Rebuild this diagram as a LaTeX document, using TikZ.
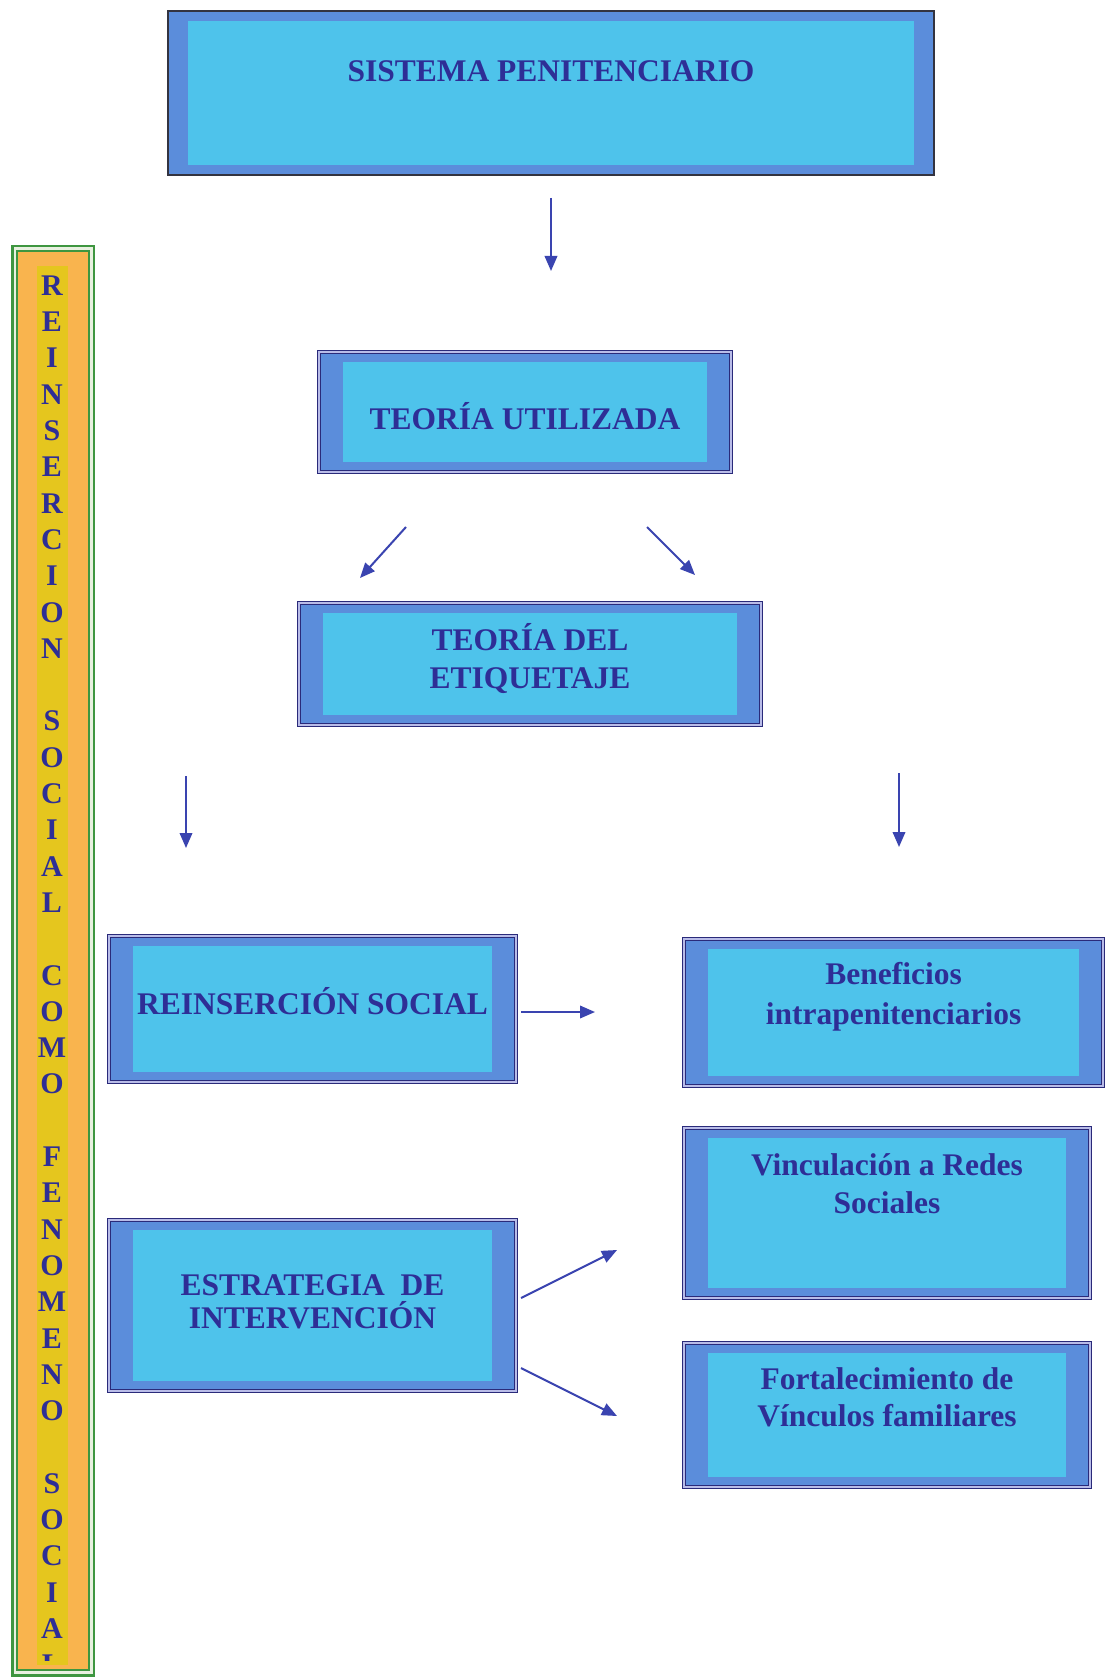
\documentclass[tikz,border=0pt]{standalone}
\usepackage{fontspec}
\setmainfont{Liberation Serif}
\usetikzlibrary{arrows.meta}
\definecolor{navy}{HTML}{2A2A7A}
\definecolor{midblue}{HTML}{5B8DDB}
\definecolor{cyanc}{HTML}{4EC3EB}
\definecolor{txtblue}{HTML}{2E2E96}
\definecolor{arrblue}{HTML}{3A44B0}
\definecolor{lav}{HTML}{B9BCE8}
\definecolor{grn}{HTML}{3E9640}
\definecolor{orng}{HTML}{F9B44E}
\definecolor{ylw}{HTML}{E5C61E}
\definecolor{paleg}{HTML}{E8F0E0}
\definecolor{sisedge}{HTML}{333340}
\newcommand{\boxtxt}[2]{\raisebox{#1}[0pt][0pt]{\begin{tabular}{@{}c@{}}#2\end{tabular}}}
\begin{document}
\begin{tikzpicture}[x=1pt,y=-1pt,
  bxbase/.style={fill=midblue, inner sep=0pt, outer sep=0pt,
    font=\fontsize{31.5}{38}\selectfont\bfseries, text=txtblue,
    path picture={\fill[cyanc] ([xshift=#1,yshift=-10pt]path picture bounding box.north west) rectangle ([xshift=-#1,yshift=10pt]path picture bounding box.south east);}},
  bxd/.style={bxbase=24pt, draw=navy, line width=1.8pt, double=lav, double distance=1.2pt},
  bxs/.style={bxbase=20pt, draw=sisedge, line width=2.5pt},
  barletter/.style={font=\fontsize{30}{36}\selectfont\bfseries, text=txtblue, inner sep=0pt, anchor=base},
  arr/.style={draw=arrblue, line width=2pt, -{Triangle[length=15pt,width=12.5pt]}}
]
\useasboundingbox (0,0) rectangle (1108,1677);
\fill[white] (0,0) rectangle (1108,1677);

% left vertical bar
\fill[paleg] (11,245) rectangle (95,1677);
\fill[orng] (17,251) rectangle (89,1670);
\fill[ylw] (37,266) rectangle (68,1665);
\draw[grn, line width=2.5pt] (12.25,246.25) rectangle (93.75,1675.5);
\draw[grn, line width=1.5pt] (17,251) rectangle (89,1670);
\begin{scope}
\clip (17,251) rectangle (89,1660);
\foreach \c/\i in {R/0,E/1,I/2,N/3,S/4,E/5,R/6,C/7,I/8,O/9,N/10,
  S/12,O/13,C/14,I/15,A/16,L/17,
  C/19,O/20,M/21,O/22,
  F/24,E/25,N/26,O/27,M/28,E/29,N/30,O/31,
  S/33,O/34,C/35,I/36,A/37,L/38}
  \node[barletter] (l\i) at (52,{295.3+36.3*\i}) {\c};
\end{scope}

% boxes
\node[bxs, minimum width=766pt, minimum height=164pt] (sis) at (551,93)
  {\boxtxt{12.5pt}{SISTEMA PENITENCIARIO}};
\node[bxd, minimum width=412pt, minimum height=120pt] (teo1) at (525,412)
  {\boxtxt{-15.5pt}{TEORÍA UTILIZADA}};
\node[bxd, minimum width=462pt, minimum height=122pt] (teo2) at (530,664)
  {\boxtxt{-3.5pt}{TEORÍA DEL\\ETIQUETAJE}};
\node[bxd, minimum width=407pt, minimum height=146pt] (rein) at (312.5,1009)
  {\boxtxt{-4pt}{REINSERCIÓN SOCIAL}};
\node[bxd, minimum width=419pt, minimum height=147pt] (ben) at (893.5,1012.5)
  {\boxtxt{9pt}{Beneficios\\[2pt]intrapenitenciarios}};
\node[bxd, minimum width=406pt, minimum height=170pt] (vin) at (887,1213)
  {\boxtxt{20pt}{Vinculación a Redes\\Sociales}};
\node[bxd, minimum width=406pt, minimum height=144pt] (fort) at (887,1415)
  {\boxtxt{8.5pt}{Fortalecimiento de\\[-1pt]Vínculos familiares}};
\node[bxd, minimum width=407pt, minimum height=171pt] (est) at (312.5,1305.5)
  {\boxtxt{-5pt}{ESTRATEGIA~~DE\\[-6pt]INTERVENCIÓN}};

% arrow end points
\coordinate (a1s) at (551,198);  \coordinate (a1e) at (551,271);
\coordinate (a2s) at (406,527);  \coordinate (a2e) at (360,578);
\coordinate (a3s) at (647,527);  \coordinate (a3e) at (695,575);
\coordinate (a4s) at (186,776);  \coordinate (a4e) at (186,848);
\coordinate (a5s) at (899,773);  \coordinate (a5e) at (899,847);
\coordinate (a6s) at (521,1012); \coordinate (a6e) at (595,1012);
\coordinate (a7s) at (521,1298); \coordinate (a7e) at (617,1250);
\coordinate (a8s) at (521,1368); \coordinate (a8e) at (617,1416);

\draw[arr] (a1s) -- (a1e);
\draw[arr] (a2s) -- (a2e);
\draw[arr] (a3s) -- (a3e);
\draw[arr] (a4s) -- (a4e);
\draw[arr] (a5s) -- (a5e);
\draw[arr] (a6s) -- (a6e);
\draw[arr] (a7s) -- (a7e);
\draw[arr] (a8s) -- (a8e);
\end{tikzpicture}
\end{document}
